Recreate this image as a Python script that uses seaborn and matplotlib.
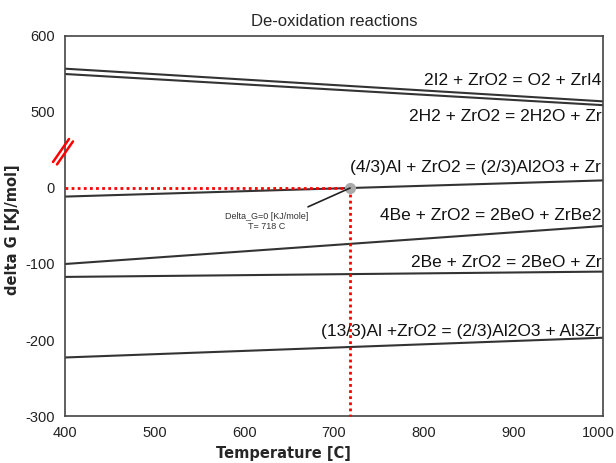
import numpy as np
import pandas as pd
import matplotlib
matplotlib.use("Agg")
import matplotlib.pyplot as plt
import matplotlib.transforms as mtransforms
import seaborn as sns
from matplotlib.lines import Line2D

# ---- data ----
temperature = [400, 1000]
reactions = [
    "2I2 + ZrO2 = O2 + ZrI4",
    "2H2 + ZrO2 = 2H2O + Zr",
    "(4/3)Al + ZrO2 = (2/3)Al2O3 + Zr",
    "4Be + ZrO2 = 2BeO + ZrBe2",
    "2Be + ZrO2 = 2BeO + Zr",
    "(13/3)Al +ZrO2 = (2/3)Al2O3 + Al3Zr",
]
dg_i2 = [557, 514]
dg_h2 = [550, 509]
dg_al43 = [-11.3, 10]
dg_be4 = [-100, -50]
dg_be2 = [-117, -110]
dg_al133 = [-223, -197]
series_values = [dg_i2, dg_h2, dg_al43, dg_be4, dg_be2, dg_al133]
ytick_values = [-300, -200, -100, 0, 500, 600]
xtick_values = [400, 500, 600, 700, 800, 900, 1000]
zero_T = 718

BREAK_OFFSET = 400  # values above the break are shifted down by this amount

def to_display(v):
    return v - BREAK_OFFSET if v > 250 else v

rows = []
for name, vals in zip(reactions, series_values):
    for t, v in zip(temperature, vals):
        rows.append({"T": t, "dG": to_display(v), "reaction": name})
df = pd.DataFrame(rows)

sns.set_style("white")
plt.rcParams["font.family"] = ["Liberation Sans", "DejaVu Sans"]

fig = plt.figure(figsize=(6.16, 4.63), dpi=100)
ax = fig.add_axes([65/616, 1-416/463, (603-65)/616, (416-36)/463])

sns.lineplot(data=df, x="T", y="dG", hue="reaction", hue_order=reactions,
             palette=["#333333"]*len(reactions), legend=False, ax=ax, lw=1.5)

ax.set_xlim(400, 1000)
ax.set_ylim(-300, 200)
ax.set_xticks(xtick_values)
ax.set_xticklabels([str(v) for v in xtick_values])
ax.set_yticks([to_display(v) for v in ytick_values])
ax.set_yticklabels([str(v) for v in ytick_values])
ax.tick_params(axis="both", direction="out", length=4, width=1, colors="#333333",
               labelsize=10.5, labelcolor="#222222")
for s in ax.spines.values():
    s.set_color("#444444")
    s.set_linewidth(1.2)

# nudge the last x tick label so it stays inside the figure
last = ax.get_xticklabels()[-1]
last.set_transform(last.get_transform() + mtransforms.ScaledTranslation(-5/100, 0, fig.dpi_scale_trans))

ax.set_title("De-oxidation reactions", fontsize=12, pad=7)
ax.set_xlabel("Temperature [C]", fontsize=10.5, fontweight="bold", family="DejaVu Sans")
ax.set_ylabel("delta G [KJ/mol]", fontsize=10.5, fontweight="bold", family="DejaVu Sans")
ax.xaxis.set_label_coords((283-65)/538, -0.08)
ax.yaxis.set_label_coords(-(65-20)/538, 0.49)

# reaction labels (right aligned)
lab_pos = [81, 117, 168, 216, 263, 332]  # pixel centers
for name, py in zip(reactions, lab_pos):
    yd = 200 - (py - 36) / 76.0 * 100
    ax.text(998, yd, name, ha="right", va="center", fontsize=12.5, color="#111111")

# zero crossing red dotted lines
ax.plot([400, zero_T], [0, 0], color="red", ls=(0, (1, 1.2)), lw=2, zorder=3)
ax.plot([zero_T, zero_T], [0, -300], color="red", ls=(0, (1, 1.2)), lw=2, zorder=3, clip_on=False)
ax.plot([zero_T], [0], "o", color="#aaaaaa", ms=7, zorder=4)
ax.plot([zero_T, 671], [0, -24.8], color="#222222", lw=1.2, zorder=4)
ax.text(625, -38, "Delta_G=0 [KJ/mole]", ha="center", va="center", fontsize=6.5, color="#333333")
ax.text(625, -51, "T= 718 C", ha="center", va="center", fontsize=6.5, color="#333333")

# axis-break marks
for dx in (0, 4):
    fig.add_artist(Line2D([(53+dx)/616, (69+dx)/616], [1-(162+dx*0.6)/463, 1-(139+dx*0.6)/463],
                          transform=fig.transFigure, color="red", lw=1.8))

fig.savefig("out.png", dpi=100)
